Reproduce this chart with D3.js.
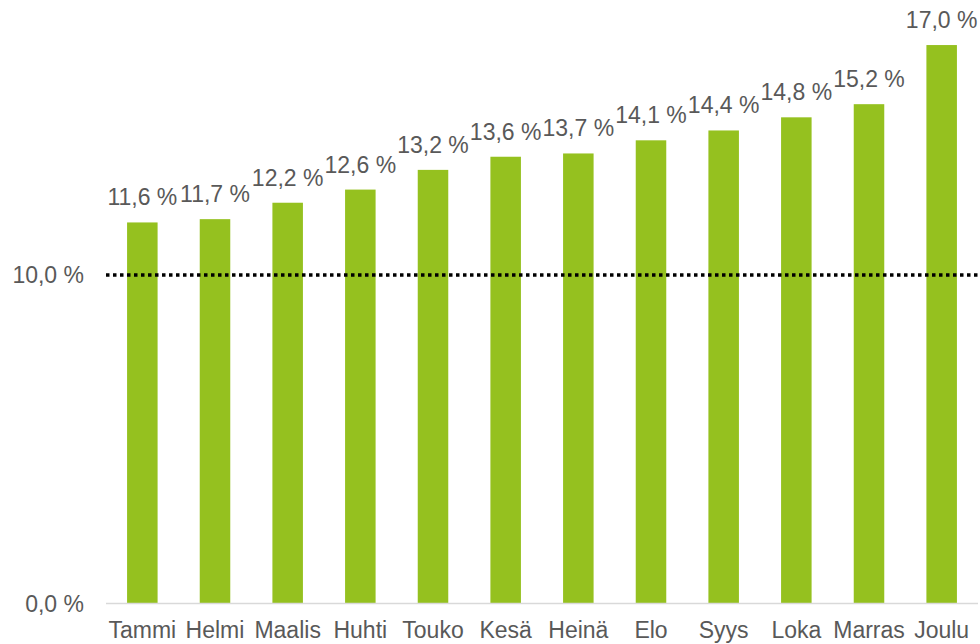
<!DOCTYPE html>
<html>
<head>
<meta charset="utf-8">
<script src="https://cdn.jsdelivr.net/npm/d3@7"></script>
<style>
  body { margin: 0; background: #fff; }
  text { font-family: "Liberation Sans", Arial, sans-serif; fill: #595959; }
</style>
</head>
<body>
<script>
// Data
var months = ["Tammi", "Helmi", "Maalis", "Huhti", "Touko", "Kesä", "Heinä", "Elo", "Syys", "Loka", "Marras", "Joulu"];
var values = [11.6, 11.7, 12.2, 12.6, 13.2, 13.6, 13.7, 14.1, 14.4, 14.8, 15.2, 17.0];
var yTicks = [0, 10];
var refValue = 10;

var width = 980, height = 644;

var svg = d3.select("body").append("svg")
    .attr("width", width)
    .attr("height", height);

// Finnish number format (comma decimal)
var fi = d3.formatLocale({decimal: ",", thousands: "\u00a0", grouping: [3], currency: ["", " €"]});
var fmt = function(v) { return fi.format(".1f")(v) + " %"; };

var x = d3.scaleBand()
    .domain(months)
    .range([106, 978])
    .paddingInner(0.58)
    .paddingOuter(0.29);

var y = d3.scaleLinear()
    .domain([0, 10])
    .range([603.5, 275]);

// y axis labels
svg.selectAll(".ylab")
    .data(yTicks)
    .enter()
    .append("text")
    .attr("class", "ylab")
    .attr("x", 84)
    .attr("y", function(d) { return y(d); })
    .attr("dy", "0.35em")
    .attr("text-anchor", "end")
    .attr("font-size", "23px")
    .text(fmt);

// bars
svg.selectAll(".bar")
    .data(values)
    .enter()
    .append("rect")
    .attr("class", "bar")
    .attr("x", function(d, i) { return x(months[i]); })
    .attr("width", x.bandwidth())
    .attr("y", function(d) { return y(d); })
    .attr("height", function(d) { return y(0) - y(d); })
    .attr("fill", "#95C11F");

// baseline
svg.append("line")
    .attr("x1", 106).attr("x2", 978)
    .attr("y1", y(0)).attr("y2", y(0))
    .attr("stroke", "#d9d9d9")
    .attr("stroke-width", 1.5);

// 10 % dotted reference line
svg.append("line")
    .attr("x1", 106).attr("x2", 978)
    .attr("y1", y(refValue)).attr("y2", y(refValue))
    .attr("stroke", "#000")
    .attr("stroke-width", 3.5)
    .attr("stroke-dasharray", "3.5,3.5");

// value labels
svg.selectAll(".vlab")
    .data(values)
    .enter()
    .append("text")
    .attr("class", "vlab")
    .attr("x", function(d, i) { return x(months[i]) + x.bandwidth() / 2; })
    .attr("y", function(d) { return y(d) - 17; })
    .attr("text-anchor", "middle")
    .attr("font-size", "23px")
    .text(fmt);

// month labels
svg.selectAll(".xlab")
    .data(months)
    .enter()
    .append("text")
    .attr("class", "xlab")
    .attr("x", function(d) { return x(d) + x.bandwidth() / 2; })
    .attr("y", 638)
    .attr("text-anchor", "middle")
    .attr("font-size", "23px")
    .text(function(d) { return d; });
</script>
</body>
</html>
